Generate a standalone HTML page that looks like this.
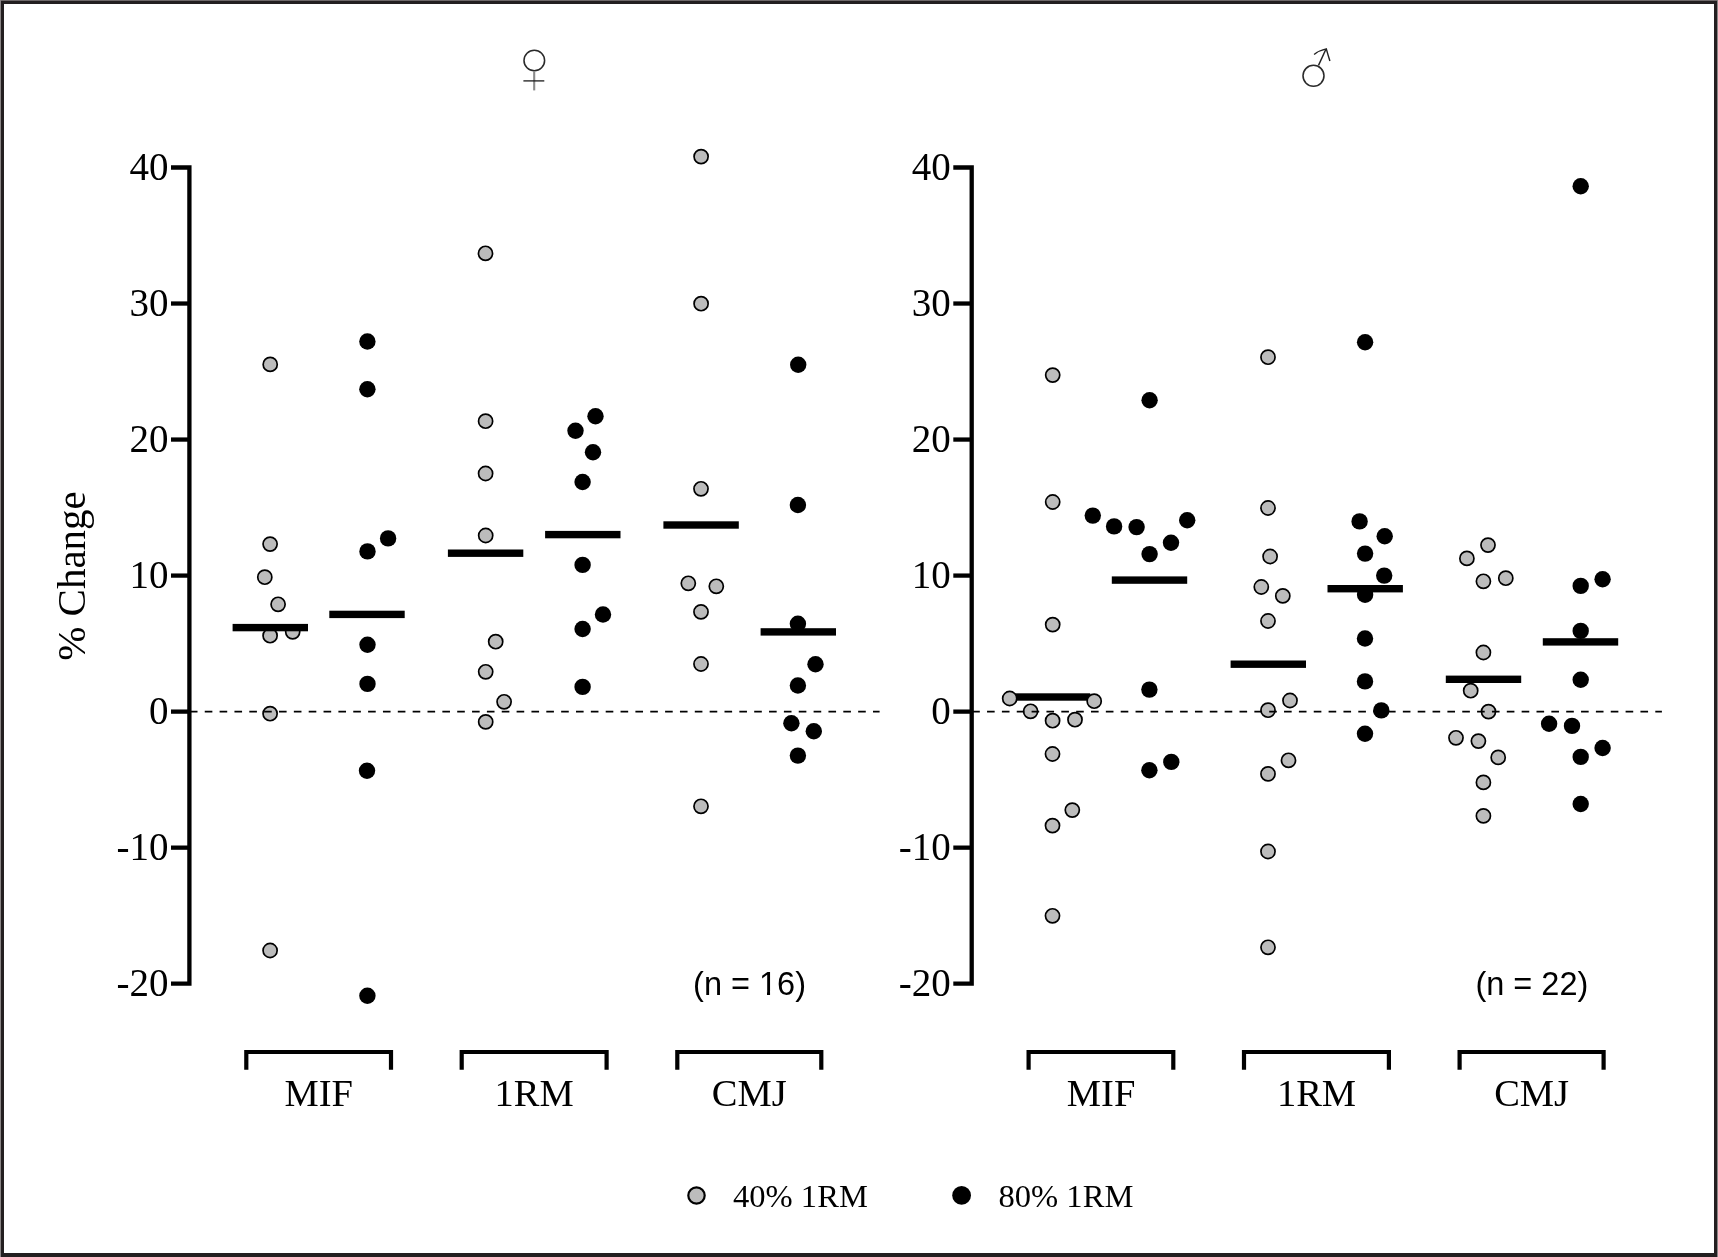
<!DOCTYPE html><html><head><meta charset="utf-8"><style>html,body{margin:0;padding:0;background:#fff;width:1718px;height:1257px;overflow:hidden}svg{display:block;will-change:transform}text{font-family:"Liberation Serif",serif;fill:#000}.s{font-family:"Liberation Sans",sans-serif}</style></head><body>
<svg width="1718" height="1257" viewBox="0 0 1718 1257">
<rect x="0" y="0" width="1718" height="1257" fill="#fff"/>
<rect x="2" y="2" width="1714" height="1253" fill="none" stroke="#231f20" stroke-width="4"/>
<rect x="0" y="0" width="1718" height="1" fill="#6f696a"/>
<rect x="0" y="0" width="1" height="1257" fill="#8a8586"/>
<rect x="1717" y="0" width="1" height="1257" fill="#8a8586"/>
<circle cx="270.2" cy="364.4" r="7.05" fill="#bcbcbc" stroke="#000" stroke-width="1.7"/>
<circle cx="270.1" cy="544.1" r="7.05" fill="#bcbcbc" stroke="#000" stroke-width="1.7"/>
<circle cx="264.8" cy="577.2" r="7.05" fill="#bcbcbc" stroke="#000" stroke-width="1.7"/>
<circle cx="278.1" cy="604.3" r="7.05" fill="#bcbcbc" stroke="#000" stroke-width="1.7"/>
<circle cx="270.1" cy="635.7" r="7.05" fill="#bcbcbc" stroke="#000" stroke-width="1.7"/>
<circle cx="292.7" cy="631.8" r="7.05" fill="#bcbcbc" stroke="#000" stroke-width="1.7"/>
<circle cx="270.1" cy="713.7" r="7.05" fill="#bcbcbc" stroke="#000" stroke-width="1.7"/>
<circle cx="270.1" cy="950.5" r="7.05" fill="#bcbcbc" stroke="#000" stroke-width="1.7"/>
<circle cx="485.5" cy="253.3" r="7.05" fill="#bcbcbc" stroke="#000" stroke-width="1.7"/>
<circle cx="485.6" cy="421.2" r="7.05" fill="#bcbcbc" stroke="#000" stroke-width="1.7"/>
<circle cx="485.6" cy="473.5" r="7.05" fill="#bcbcbc" stroke="#000" stroke-width="1.7"/>
<circle cx="485.7" cy="535.5" r="7.05" fill="#bcbcbc" stroke="#000" stroke-width="1.7"/>
<circle cx="495.7" cy="641.7" r="7.05" fill="#bcbcbc" stroke="#000" stroke-width="1.7"/>
<circle cx="485.7" cy="671.8" r="7.05" fill="#bcbcbc" stroke="#000" stroke-width="1.7"/>
<circle cx="504.1" cy="701.8" r="7.05" fill="#bcbcbc" stroke="#000" stroke-width="1.7"/>
<circle cx="485.7" cy="721.9" r="7.05" fill="#bcbcbc" stroke="#000" stroke-width="1.7"/>
<circle cx="701.1" cy="156.6" r="7.05" fill="#bcbcbc" stroke="#000" stroke-width="1.7"/>
<circle cx="701.1" cy="303.7" r="7.05" fill="#bcbcbc" stroke="#000" stroke-width="1.7"/>
<circle cx="701" cy="488.8" r="7.05" fill="#bcbcbc" stroke="#000" stroke-width="1.7"/>
<circle cx="688.3" cy="583.3" r="7.05" fill="#bcbcbc" stroke="#000" stroke-width="1.7"/>
<circle cx="716.3" cy="586.3" r="7.05" fill="#bcbcbc" stroke="#000" stroke-width="1.7"/>
<circle cx="701" cy="611.9" r="7.05" fill="#bcbcbc" stroke="#000" stroke-width="1.7"/>
<circle cx="701" cy="664" r="7.05" fill="#bcbcbc" stroke="#000" stroke-width="1.7"/>
<circle cx="701" cy="806.3" r="7.05" fill="#bcbcbc" stroke="#000" stroke-width="1.7"/>
<circle cx="367.4" cy="341.5" r="8.2" fill="#000"/>
<circle cx="367.4" cy="389.2" r="8.2" fill="#000"/>
<circle cx="388.1" cy="538.4" r="8.2" fill="#000"/>
<circle cx="367.5" cy="551.4" r="8.2" fill="#000"/>
<circle cx="367.5" cy="644.7" r="8.2" fill="#000"/>
<circle cx="367.5" cy="683.9" r="8.2" fill="#000"/>
<circle cx="367" cy="770.7" r="8.2" fill="#000"/>
<circle cx="367.4" cy="995.7" r="8.2" fill="#000"/>
<circle cx="595.5" cy="416.3" r="8.2" fill="#000"/>
<circle cx="575.5" cy="430.7" r="8.2" fill="#000"/>
<circle cx="593" cy="452.2" r="8.2" fill="#000"/>
<circle cx="582.6" cy="482" r="8.2" fill="#000"/>
<circle cx="582.6" cy="564.9" r="8.2" fill="#000"/>
<circle cx="603" cy="614.5" r="8.2" fill="#000"/>
<circle cx="582.6" cy="629" r="8.2" fill="#000"/>
<circle cx="582.6" cy="686.9" r="8.2" fill="#000"/>
<circle cx="798.2" cy="364.7" r="8.2" fill="#000"/>
<circle cx="797.9" cy="505" r="8.2" fill="#000"/>
<circle cx="797.9" cy="623.7" r="8.2" fill="#000"/>
<circle cx="815.5" cy="664.3" r="8.2" fill="#000"/>
<circle cx="797.9" cy="685.5" r="8.2" fill="#000"/>
<circle cx="791.4" cy="723.2" r="8.2" fill="#000"/>
<circle cx="813.8" cy="731.2" r="8.2" fill="#000"/>
<circle cx="797.9" cy="755.6" r="8.2" fill="#000"/>
<rect x="232.6" y="623.9" width="75.4" height="7.4" fill="#000"/>
<rect x="329.3" y="610.7" width="75.4" height="7.4" fill="#000"/>
<rect x="447.9" y="549.5" width="75.4" height="7.4" fill="#000"/>
<rect x="545.1" y="530.9" width="75.4" height="7.4" fill="#000"/>
<rect x="663.4" y="521.3" width="75.4" height="7.4" fill="#000"/>
<rect x="760.6" y="628.2" width="75.4" height="7.4" fill="#000"/>
<line x1="189.4" y1="711.6" x2="879.6" y2="711.6" stroke="#000" stroke-width="1.9" stroke-dasharray="7.62 7.23" stroke-dashoffset="-0.5"/>
<path d="M171,167.5 H189.4 V983.68 H171" fill="none" stroke="#000" stroke-width="4.3" stroke-linejoin="miter"/>
<line x1="171" y1="303.53" x2="189.4" y2="303.53" stroke="#000" stroke-width="4.3"/>
<line x1="171" y1="439.56" x2="189.4" y2="439.56" stroke="#000" stroke-width="4.3"/>
<line x1="171" y1="575.59" x2="189.4" y2="575.59" stroke="#000" stroke-width="4.3"/>
<line x1="171" y1="711.62" x2="189.4" y2="711.62" stroke="#000" stroke-width="4.3"/>
<line x1="171" y1="847.65" x2="189.4" y2="847.65" stroke="#000" stroke-width="4.3"/>
<text x="168.5" y="180.2" font-size="39" text-anchor="end">40</text>
<text x="168.5" y="316.23" font-size="39" text-anchor="end">30</text>
<text x="168.5" y="452.26" font-size="39" text-anchor="end">20</text>
<text x="168.5" y="588.29" font-size="39" text-anchor="end">10</text>
<text x="168.5" y="724.32" font-size="39" text-anchor="end">0</text>
<text x="168.5" y="860.35" font-size="39" text-anchor="end">-10</text>
<text x="168.5" y="996.38" font-size="39" text-anchor="end">-20</text>
<path d="M246.3,1069.8 V1052 H391 V1069.8" fill="none" stroke="#000" stroke-width="4.2" stroke-linejoin="miter"/>
<text x="318.8" y="1105.8" font-size="38.5" text-anchor="middle">MIF</text>
<path d="M461.7,1069.8 V1052 H606.6 V1069.8" fill="none" stroke="#000" stroke-width="4.2" stroke-linejoin="miter"/>
<text x="534.2" y="1105.8" font-size="38.5" text-anchor="middle">1RM</text>
<path d="M677.3,1069.8 V1052 H821.3 V1069.8" fill="none" stroke="#000" stroke-width="4.2" stroke-linejoin="miter"/>
<text x="749.3" y="1105.8" font-size="38.5" text-anchor="middle">CMJ</text>
<text class="s" x="806" y="995.3" font-size="32.5" text-anchor="end">(n = 16)</text>
<rect x="1014.9" y="693.3" width="75.4" height="7.4" fill="#000"/>
<circle cx="1052.7" cy="375.1" r="7.05" fill="#bcbcbc" stroke="#000" stroke-width="1.7"/>
<circle cx="1052.7" cy="502" r="7.05" fill="#bcbcbc" stroke="#000" stroke-width="1.7"/>
<circle cx="1052.7" cy="624.6" r="7.05" fill="#bcbcbc" stroke="#000" stroke-width="1.7"/>
<circle cx="1009.7" cy="698.5" r="7.05" fill="#bcbcbc" stroke="#000" stroke-width="1.7"/>
<circle cx="1094.2" cy="701.2" r="7.05" fill="#bcbcbc" stroke="#000" stroke-width="1.7"/>
<circle cx="1030.6" cy="711.3" r="7.05" fill="#bcbcbc" stroke="#000" stroke-width="1.7"/>
<circle cx="1052.6" cy="720.7" r="7.05" fill="#bcbcbc" stroke="#000" stroke-width="1.7"/>
<circle cx="1075" cy="719.7" r="7.05" fill="#bcbcbc" stroke="#000" stroke-width="1.7"/>
<circle cx="1052.5" cy="754" r="7.05" fill="#bcbcbc" stroke="#000" stroke-width="1.7"/>
<circle cx="1072.3" cy="810.1" r="7.05" fill="#bcbcbc" stroke="#000" stroke-width="1.7"/>
<circle cx="1052.5" cy="825.6" r="7.05" fill="#bcbcbc" stroke="#000" stroke-width="1.7"/>
<circle cx="1052.5" cy="915.8" r="7.05" fill="#bcbcbc" stroke="#000" stroke-width="1.7"/>
<circle cx="1268" cy="357.2" r="7.05" fill="#bcbcbc" stroke="#000" stroke-width="1.7"/>
<circle cx="1268" cy="508" r="7.05" fill="#bcbcbc" stroke="#000" stroke-width="1.7"/>
<circle cx="1270.1" cy="556.5" r="7.05" fill="#bcbcbc" stroke="#000" stroke-width="1.7"/>
<circle cx="1261.3" cy="587" r="7.05" fill="#bcbcbc" stroke="#000" stroke-width="1.7"/>
<circle cx="1282.8" cy="595.9" r="7.05" fill="#bcbcbc" stroke="#000" stroke-width="1.7"/>
<circle cx="1268" cy="621" r="7.05" fill="#bcbcbc" stroke="#000" stroke-width="1.7"/>
<circle cx="1290" cy="700.5" r="7.05" fill="#bcbcbc" stroke="#000" stroke-width="1.7"/>
<circle cx="1268" cy="710.2" r="7.05" fill="#bcbcbc" stroke="#000" stroke-width="1.7"/>
<circle cx="1288.5" cy="760.3" r="7.05" fill="#bcbcbc" stroke="#000" stroke-width="1.7"/>
<circle cx="1268" cy="773.9" r="7.05" fill="#bcbcbc" stroke="#000" stroke-width="1.7"/>
<circle cx="1268" cy="851.5" r="7.05" fill="#bcbcbc" stroke="#000" stroke-width="1.7"/>
<circle cx="1268" cy="947.3" r="7.05" fill="#bcbcbc" stroke="#000" stroke-width="1.7"/>
<circle cx="1488" cy="545.1" r="7.05" fill="#bcbcbc" stroke="#000" stroke-width="1.7"/>
<circle cx="1466.9" cy="558.4" r="7.05" fill="#bcbcbc" stroke="#000" stroke-width="1.7"/>
<circle cx="1483.4" cy="581.3" r="7.05" fill="#bcbcbc" stroke="#000" stroke-width="1.7"/>
<circle cx="1505.8" cy="578.2" r="7.05" fill="#bcbcbc" stroke="#000" stroke-width="1.7"/>
<circle cx="1483.4" cy="652.5" r="7.05" fill="#bcbcbc" stroke="#000" stroke-width="1.7"/>
<circle cx="1470.7" cy="690.7" r="7.05" fill="#bcbcbc" stroke="#000" stroke-width="1.7"/>
<circle cx="1488.5" cy="711.6" r="7.05" fill="#bcbcbc" stroke="#000" stroke-width="1.7"/>
<circle cx="1456" cy="737.8" r="7.05" fill="#bcbcbc" stroke="#000" stroke-width="1.7"/>
<circle cx="1478.4" cy="741.1" r="7.05" fill="#bcbcbc" stroke="#000" stroke-width="1.7"/>
<circle cx="1498.2" cy="757.4" r="7.05" fill="#bcbcbc" stroke="#000" stroke-width="1.7"/>
<circle cx="1483.4" cy="782.4" r="7.05" fill="#bcbcbc" stroke="#000" stroke-width="1.7"/>
<circle cx="1483.4" cy="815.9" r="7.05" fill="#bcbcbc" stroke="#000" stroke-width="1.7"/>
<circle cx="1149.6" cy="400.3" r="8.2" fill="#000"/>
<circle cx="1092.8" cy="515.6" r="8.2" fill="#000"/>
<circle cx="1114.1" cy="526.4" r="8.2" fill="#000"/>
<circle cx="1136.6" cy="527.1" r="8.2" fill="#000"/>
<circle cx="1187.2" cy="520.2" r="8.2" fill="#000"/>
<circle cx="1171" cy="542.8" r="8.2" fill="#000"/>
<circle cx="1149.6" cy="554.1" r="8.2" fill="#000"/>
<circle cx="1149.4" cy="689.6" r="8.2" fill="#000"/>
<circle cx="1171.3" cy="761.9" r="8.2" fill="#000"/>
<circle cx="1149.4" cy="770.2" r="8.2" fill="#000"/>
<circle cx="1365.1" cy="342.2" r="8.2" fill="#000"/>
<circle cx="1359.6" cy="521.4" r="8.2" fill="#000"/>
<circle cx="1384.7" cy="536.2" r="8.2" fill="#000"/>
<circle cx="1365.1" cy="553.6" r="8.2" fill="#000"/>
<circle cx="1384.2" cy="575.6" r="8.2" fill="#000"/>
<circle cx="1365.1" cy="594.7" r="8.2" fill="#000"/>
<circle cx="1365" cy="638.5" r="8.2" fill="#000"/>
<circle cx="1365" cy="681.4" r="8.2" fill="#000"/>
<circle cx="1381.3" cy="710.4" r="8.2" fill="#000"/>
<circle cx="1365" cy="733.7" r="8.2" fill="#000"/>
<circle cx="1580.7" cy="186.2" r="8.2" fill="#000"/>
<circle cx="1580.7" cy="585.9" r="8.2" fill="#000"/>
<circle cx="1602.6" cy="579.2" r="8.2" fill="#000"/>
<circle cx="1580.7" cy="630.9" r="8.2" fill="#000"/>
<circle cx="1580.7" cy="679.8" r="8.2" fill="#000"/>
<circle cx="1549.1" cy="723.8" r="8.2" fill="#000"/>
<circle cx="1572" cy="725.9" r="8.2" fill="#000"/>
<circle cx="1602.6" cy="748" r="8.2" fill="#000"/>
<circle cx="1580.7" cy="756.9" r="8.2" fill="#000"/>
<circle cx="1580.7" cy="804" r="8.2" fill="#000"/>
<rect x="1111.8" y="576.4" width="75.4" height="7.4" fill="#000"/>
<rect x="1230.6" y="660.5" width="75.4" height="7.4" fill="#000"/>
<rect x="1327.5" y="585" width="75.4" height="7.4" fill="#000"/>
<rect x="1445.8" y="675.6" width="75.4" height="7.4" fill="#000"/>
<rect x="1542.8" y="638.2" width="75.4" height="7.4" fill="#000"/>
<line x1="971.7" y1="711.6" x2="1661.9" y2="711.6" stroke="#000" stroke-width="1.9" stroke-dasharray="7.62 7.23" stroke-dashoffset="-0.5"/>
<path d="M953.3,167.5 H971.7 V983.68 H953.3" fill="none" stroke="#000" stroke-width="4.3" stroke-linejoin="miter"/>
<line x1="953.3" y1="303.53" x2="971.7" y2="303.53" stroke="#000" stroke-width="4.3"/>
<line x1="953.3" y1="439.56" x2="971.7" y2="439.56" stroke="#000" stroke-width="4.3"/>
<line x1="953.3" y1="575.59" x2="971.7" y2="575.59" stroke="#000" stroke-width="4.3"/>
<line x1="953.3" y1="711.62" x2="971.7" y2="711.62" stroke="#000" stroke-width="4.3"/>
<line x1="953.3" y1="847.65" x2="971.7" y2="847.65" stroke="#000" stroke-width="4.3"/>
<text x="950.8" y="180.2" font-size="39" text-anchor="end">40</text>
<text x="950.8" y="316.23" font-size="39" text-anchor="end">30</text>
<text x="950.8" y="452.26" font-size="39" text-anchor="end">20</text>
<text x="950.8" y="588.29" font-size="39" text-anchor="end">10</text>
<text x="950.8" y="724.32" font-size="39" text-anchor="end">0</text>
<text x="950.8" y="860.35" font-size="39" text-anchor="end">-10</text>
<text x="950.8" y="996.38" font-size="39" text-anchor="end">-20</text>
<path d="M1028.6,1069.8 V1052 H1173.3 V1069.8" fill="none" stroke="#000" stroke-width="4.2" stroke-linejoin="miter"/>
<text x="1101.1" y="1105.8" font-size="38.5" text-anchor="middle">MIF</text>
<path d="M1244,1069.8 V1052 H1388.9 V1069.8" fill="none" stroke="#000" stroke-width="4.2" stroke-linejoin="miter"/>
<text x="1316.5" y="1105.8" font-size="38.5" text-anchor="middle">1RM</text>
<path d="M1459.6,1069.8 V1052 H1603.6 V1069.8" fill="none" stroke="#000" stroke-width="4.2" stroke-linejoin="miter"/>
<text x="1531.6" y="1105.8" font-size="38.5" text-anchor="middle">CMJ</text>
<text class="s" x="1588.3" y="995.3" font-size="32.5" text-anchor="end">(n = 22)</text>
<rect x="759.5" y="991.2" width="7.5" height="4.5" fill="#fff"/>
<rect x="770.05" y="991.2" width="7" height="4.5" fill="#fff"/>
<text x="0" y="0" font-size="41" text-anchor="middle" transform="translate(84.8,576) rotate(-90)">% Change</text>
<circle cx="534.3" cy="60.5" r="10.3" fill="none" stroke="#2a2a2a" stroke-width="1.55"/>
<line x1="534.2" y1="71" x2="534.2" y2="90.4" stroke="#8a8a8a" stroke-width="2.1"/>
<line x1="523.4" y1="80.9" x2="544.3" y2="80.9" stroke="#1a1a1a" stroke-width="1.3"/>
<circle cx="1313.5" cy="75.8" r="10.5" fill="none" stroke="#2a2a2a" stroke-width="1.55"/>
<path d="M1318.5,65.4 L1325.9,49.2" fill="none" stroke="#222" stroke-width="1.45"/>
<path d="M1314.1,54.5 Q1319.3,50.3 1326.3,48.9 Q1328,55 1329.9,61" fill="none" stroke="#222" stroke-width="1.45" stroke-linejoin="miter"/>
<circle cx="696.5" cy="1195.5" r="8.2" fill="#bcbcbc" stroke="#000" stroke-width="2.2"/>
<text x="733" y="1206.5" font-size="32.6">40% 1RM</text>
<circle cx="961.6" cy="1195.4" r="9.4" fill="#000"/>
<text x="998.5" y="1206.5" font-size="32.6">80% 1RM</text>
</svg></body></html>
